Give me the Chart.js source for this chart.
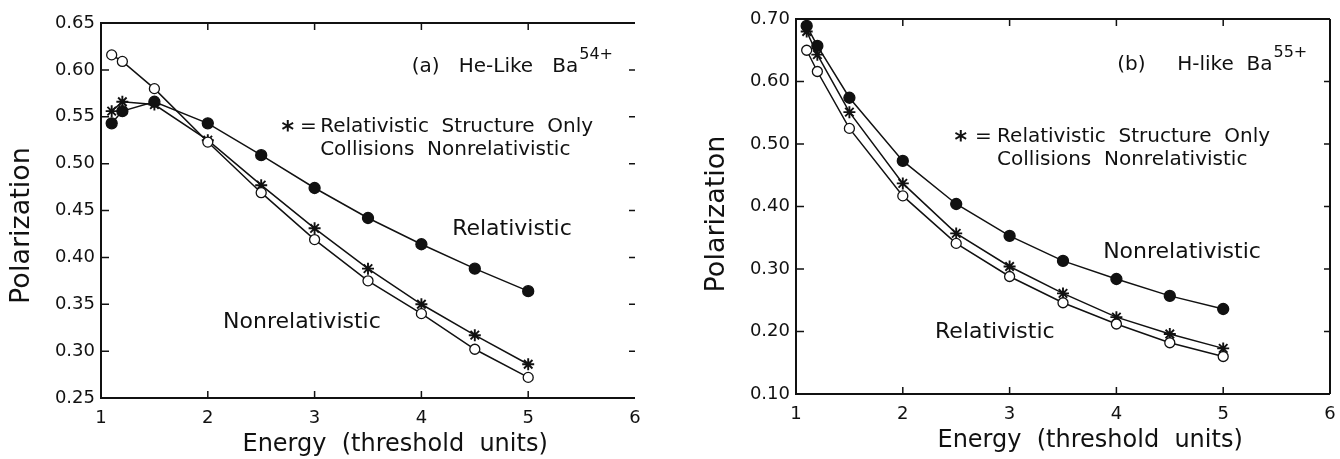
<!DOCTYPE html>
<html>
<head>
<meta charset="utf-8">
<script src="https://cdn.jsdelivr.net/npm/chart.js@4.4.1/dist/chart.umd.min.js"></script>
<style>
  body { margin: 0; background: #fff; }
  canvas { position: absolute; top: 0; }
</style>
</head>
<body>
<canvas id="panelA" width="670" height="459" style="left:0"></canvas>
<canvas id="panelB" width="670" height="459" style="left:670px"></canvas>
<script>
// energies in threshold units, shared by both panels
const energy = [1.1, 1.2, 1.5, 2, 2.5, 3, 3.5, 4, 4.5, 5];
const energyTicks = [1, 2, 3, 4, 5, 6];

// (a) He-like Ba54+
const heRelativistic = [0.543, 0.556, 0.566, 0.543, 0.509, 0.474, 0.442, 0.414, 0.388, 0.364];
const heNonrelativistic = [0.616, 0.609, 0.580, 0.523, 0.469, 0.419, 0.375, 0.340, 0.302, 0.272];
const heStructureOnly = [0.556, 0.566, 0.563, 0.525, 0.477, 0.431, 0.388, 0.350, 0.317, 0.286];
const heTicks = [0.25, 0.30, 0.35, 0.40, 0.45, 0.50, 0.55, 0.60, 0.65];

// (b) H-like Ba55+
const hNonrelativistic = [0.689, 0.657, 0.574, 0.473, 0.404, 0.353, 0.313, 0.284, 0.257, 0.236];
const hRelativistic = [0.650, 0.616, 0.525, 0.417, 0.341, 0.288, 0.246, 0.212, 0.182, 0.160];
const hStructureOnly = [0.680, 0.643, 0.551, 0.437, 0.357, 0.304, 0.261, 0.223, 0.196, 0.173];
const hTicks = [0.10, 0.20, 0.30, 0.40, 0.50, 0.60, 0.70];

const INK = "#111";
const FONT = "DejaVu Sans";

function points(ys) {
  return energy.map((e, i) => ({ x: e, y: ys[i] }));
}

function series(ys, kind) {
  return {
    data: points(ys),
    borderColor: INK,
    borderWidth: 1.5,
    pointStyle: kind === "star" ? "star" : "circle",
    pointRadius: kind === "filled" ? 5.5 : kind === "star" ? 6 : 5,
    pointBorderWidth: kind === "star" ? 1.9 : 1.3,
    pointBorderColor: INK,
    pointBackgroundColor: kind === "filled" ? INK : "#fff",
    tension: 0,
    clip: false,
  };
}

// frame with inward ticks, axis titles and the in-plot notes
const figText = {
  id: "figText",
  afterDraw(chart, args, opts) {
    const ctx = chart.ctx;
    const area = chart.chartArea;
    const xs = chart.scales.x;
    const ys = chart.scales.y;

    ctx.save();
    ctx.strokeStyle = INK;
    ctx.lineWidth = 2;
    ctx.beginPath();
    ctx.moveTo(area.right, area.top);
    ctx.lineTo(area.left, area.top);
    ctx.lineTo(area.left, area.bottom);
    ctx.lineTo(area.right, area.bottom);
    if (opts.rightBorder) {
      ctx.moveTo(area.right, area.top);
      ctx.lineTo(area.right, area.bottom);
    }
    ctx.stroke();

    ctx.lineWidth = 1.5;
    ctx.beginPath();
    xs.ticks.forEach((t) => {
      const px = xs.getPixelForValue(t.value);
      if (px <= area.left + 1 || px >= area.right - 1) return;
      ctx.moveTo(px, area.bottom);
      ctx.lineTo(px, area.bottom - 7);
      ctx.moveTo(px, area.top);
      ctx.lineTo(px, area.top + 7);
    });
    ys.ticks.forEach((t) => {
      const py = ys.getPixelForValue(t.value);
      if (py <= area.top + 1 || py >= area.bottom - 1) return;
      ctx.moveTo(area.left, py);
      ctx.lineTo(area.left + 8, py);
      ctx.moveTo(area.right, py);
      ctx.lineTo(area.right - 6, py);
    });
    ctx.stroke();

    ctx.fillStyle = INK;
    ctx.textBaseline = "middle";

    // axis titles
    ctx.textAlign = "center";
    ctx.font = "24px '" + FONT + "'";
    ctx.fillText("Energy  (threshold  units)", xs.getPixelForValue(opts.xTitleAt), area.bottom + 47);
    ctx.save();
    ctx.translate(area.left - 79, area.top + (area.bottom - area.top) * opts.yTitleAt);
    ctx.rotate(-Math.PI / 2);
    ctx.font = "27px '" + FONT + "'";
    ctx.fillText("Polarization", 0, 0);
    ctx.restore();

    ctx.textAlign = "left";
    opts.notes.forEach((n) => {
      const px = xs.getPixelForValue(n.x);
      const py = ys.getPixelForValue(n.y) + (n.dy || 0);
      ctx.font = (n.bold ? "bold " : "") + n.size + "px '" + FONT + "'";
      ctx.fillText(n.text, px, py);
      if (n.sup) {
        const w = ctx.measureText(n.text).width;
        ctx.font = "16px '" + FONT + "'";
        ctx.fillText(n.sup, px + w + 1, py - 12);
      }
    });
    ctx.restore();
  },
};

function makePanel(id, cfg) {
  return new Chart(document.getElementById(id), {
    type: "line",
    data: { datasets: cfg.datasets },
    options: {
      responsive: false,
      devicePixelRatio: 1,
      animation: false,
      layout: { padding: cfg.padding },
      plugins: {
        legend: { display: false },
        tooltip: { enabled: false },
        figText: {
          rightBorder: cfg.rightBorder,
          xTitleAt: 3.754,
          yTitleAt: cfg.yTitleAt,
          notes: cfg.notes,
        },
      },
      scales: {
        x: {
          type: "linear",
          min: 1,
          max: 6,
          afterBuildTicks: (s) => {
            s.ticks = energyTicks.map((v) => ({ value: v }));
          },
          afterFit: (s) => {
            s.height = cfg.xHeight;
            s.paddingLeft = 0;
            s.paddingRight = 0;
          },
          grid: { display: false, drawTicks: false },
          border: { display: false },
          ticks: {
            color: INK,
            font: { family: FONT, size: 18 },
            padding: 10,
            maxRotation: 0,
            callback: (v) => String(v),
          },
        },
        y: {
          type: "linear",
          min: cfg.yTicks[0],
          max: cfg.yTicks[cfg.yTicks.length - 1],
          afterBuildTicks: (s) => {
            s.ticks = cfg.yTicks.map((v) => ({ value: v }));
          },
          afterFit: (s) => {
            s.width = cfg.yWidth;
            s.paddingTop = 0;
            s.paddingBottom = 0;
          },
          grid: { display: false, drawTicks: false },
          border: { display: false },
          ticks: {
            color: INK,
            font: { family: FONT, size: 18 },
            padding: 6,
            callback: (v) => v.toFixed(2),
          },
        },
      },
    },
    plugins: [figText],
  });
}

makePanel("panelA", {
  padding: { left: 0, top: 23, right: 35, bottom: 0 },
  yWidth: 101,
  xHeight: 61,
  yTicks: heTicks,
  rightBorder: false,
  yTitleAt: 0.54,
  datasets: [
    series(heRelativistic, "filled"),
    series(heNonrelativistic, "open"),
    series(heStructureOnly, "star"),
  ],
  notes: [
    { x: 3.91, y: 0.603, size: 20, text: "(a)   He-Like   Ba", sup: "54+" },
    { x: 2.69, y: 0.539, dy: 5, size: 24, bold: true, text: "*" },
    { x: 2.864, y: 0.539, size: 20, text: "=" },
    { x: 3.052, y: 0.539, size: 20, text: "Relativistic  Structure  Only" },
    { x: 3.052, y: 0.5144, size: 20, text: "Collisions  Nonrelativistic" },
    { x: 4.288, y: 0.430, size: 22, text: "Relativistic" },
    { x: 2.143, y: 0.331, size: 22, text: "Nonrelativistic" },
  ],
});

makePanel("panelB", {
  padding: { left: 0, top: 19, right: 10, bottom: 0 },
  yWidth: 126,
  xHeight: 65,
  yTicks: hTicks,
  rightBorder: true,
  yTitleAt: 0.52,
  datasets: [
    series(hNonrelativistic, "filled"),
    series(hRelativistic, "open"),
    series(hStructureOnly, "star"),
  ],
  notes: [
    { x: 4.007, y: 0.626, size: 20, text: "(b)     H-like  Ba", sup: "55+" },
    { x: 2.483, y: 0.511, dy: 5, size: 24, bold: true, text: "*" },
    { x: 2.677, y: 0.511, size: 20, text: "=" },
    { x: 2.883, y: 0.511, size: 20, text: "Relativistic  Structure  Only" },
    { x: 2.883, y: 0.474, size: 20, text: "Collisions  Nonrelativistic" },
    { x: 3.876, y: 0.326, size: 22, text: "Nonrelativistic" },
    { x: 2.302, y: 0.199, size: 22, text: "Relativistic" },
  ],
});
</script>
</body>
</html>
